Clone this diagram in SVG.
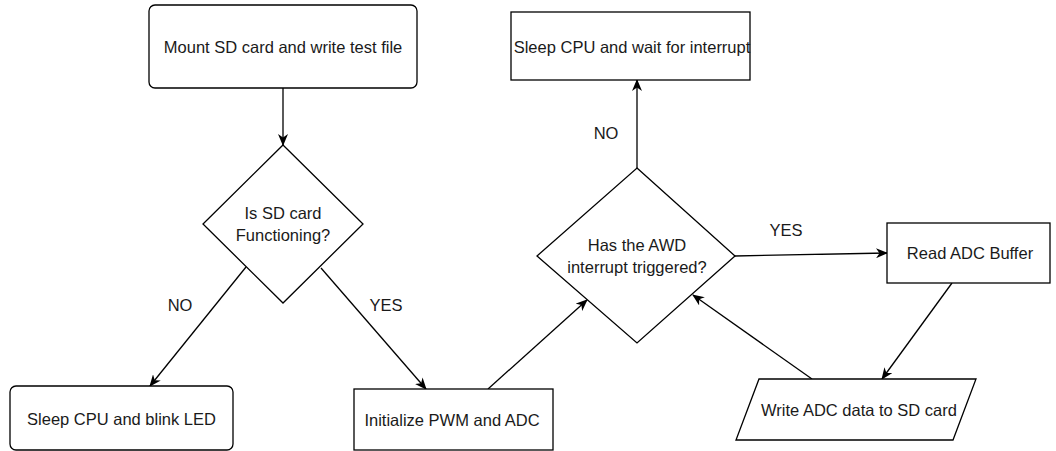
<svg xmlns="http://www.w3.org/2000/svg" width="1056" height="451" viewBox="0 0 1056 451">
<style>
.n{fill:#fff;stroke:#000;stroke-width:1.3}
.t{font-family:"Liberation Sans",Arial,sans-serif;font-size:16.5px;fill:#1a1a1a;text-anchor:middle;dominant-baseline:central}
.c{fill:none;stroke:#000;stroke-width:1.3;marker-end:url(#arr)}
</style>
<defs>
<marker id="arr" markerUnits="userSpaceOnUse" viewBox="0 0 12 10" refX="11" refY="5" markerWidth="12" markerHeight="10" orient="auto">
<path d="M0,0 L12,5 L0,10 L3.5,5 z" fill="#000"/>
</marker>
</defs>
<rect width="1056" height="451" fill="#fff"/>
<g id="connectors">
<line class="c" x1="283" y1="88" x2="283" y2="145"/>
<line class="c" x1="246" y1="267" x2="150" y2="386"/>
<line class="c" x1="321" y1="268" x2="426" y2="389"/>
<line class="c" x1="488" y1="389" x2="587" y2="300"/>
<line class="c" x1="637" y1="168" x2="637" y2="80"/>
<line class="c" x1="735" y1="256" x2="887" y2="253"/>
<line class="c" x1="952" y1="283" x2="882" y2="379"/>
<line class="c" x1="812" y1="379" x2="693" y2="295"/>
<text class="t" x="180" y="305">NO</text>
<text class="t" x="386" y="305">YES</text>
<text class="t" x="606" y="133">NO</text>
<text class="t" x="786" y="230">YES</text>
</g>
<g id="mount">
<rect class="n" x="149" y="5" width="268" height="83" rx="6"/>
<text class="t" x="283" y="47">Mount SD card and write test file</text>
</g>
<g id="sdcheck">
<polygon class="n" points="283,145 363,224 283,303 203,224"/>
<text class="t" x="283" y="213">Is SD card</text>
<text class="t" x="283" y="235">Functioning?</text>
</g>
<g id="blink">
<rect class="n" x="10" y="386" width="223" height="64" rx="6"/>
<text class="t" x="121.5" y="419">Sleep CPU and blink LED</text>
</g>
<g id="init">
<rect class="n" x="354" y="389" width="199" height="61"/>
<text class="t" x="452" y="420">Initialize PWM and ADC</text>
</g>
<g id="awd">
<polygon class="n" points="637,168 735,256 637,343 537,256"/>
<text class="t" x="637" y="245">Has the AWD</text>
<text class="t" x="637" y="267">interrupt triggered?</text>
</g>
<g id="sleepwait">
<rect class="n" x="511" y="12" width="239" height="68"/>
<text class="t" x="632" y="47">Sleep CPU and wait for interrupt</text>
</g>
<g id="readadc">
<rect class="n" x="887" y="223" width="163" height="60"/>
<text class="t" x="970" y="253">Read ADC Buffer</text>
</g>
<g id="writesd">
<polygon class="n" points="759,379 976,379 953,440 736,440"/>
<text class="t" x="859" y="410">Write ADC data to SD card</text>
</g>
</svg>
